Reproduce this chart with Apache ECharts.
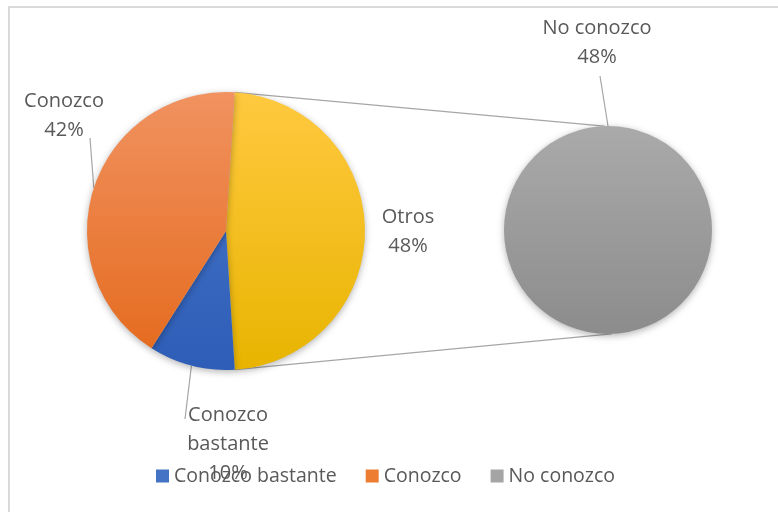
<!DOCTYPE html>
<html><head><meta charset="utf-8">
<script src="https://cdn.jsdelivr.net/npm/echarts@6/dist/echarts.min.js"></script>
<style>html,body{margin:0;padding:0;background:#fff}#c{width:778px;height:512px}</style>
</head><body><div id="c"></div>
<script>
// ---- data ----
const categories = ['Conozco bastante', 'Conozco', 'No conozco'];
const values = [10, 42, 48];
const secondaryCategories = ['No conozco'];
const otherName = 'Otros';
const wrappedNames = ['Conozco bastante'];

// ---- layout / style ----
const P1 = {cx: 226, cy: 231, r: 139};
const P2 = {cx: 608, cy: 230, r: 104};
const FONT = 'Open Sans';
const TXT = '#595959';
const LINE = '#A6A6A6';
const gradients = {
  'Conozco bastante': ['#4A78CC', '#2D5DB6'],
  'Conozco': ['#F19260', '#E4691B'],
  'Otros': ['#FFC940', '#E8B400'],
  'No conozco': ['#AAAAAA', '#8C8C8C']
};
const legendColors = {'Conozco bastante': '#4472C4', 'Conozco': '#ED7D31', 'No conozco': '#A5A5A5'};
// label centres (x, y) and leader-line end offsets relative to the label centre
const labelPos = {
  'Conozco': {x: 64, y: 116, lx: 26, ly: 22},
  'Otros': {x: 408, y: 232},
  'Conozco bastante': {x: 228, y: 444, lx: -43, ly: -25},
  'No conozco': {x: 597, y: 43, lx: 3, ly: 33}
};

const total = values.reduce((a, b) => a + b, 0);
const primaryNames = categories.filter(c => secondaryCategories.indexOf(c) < 0);
const otherValue = secondaryCategories.reduce((s, c) => s + values[categories.indexOf(c)], 0);
const startAngle = otherValue / total * 360 / 2;

function grad(name, p) {
  const g = gradients[name];
  return {type: 'linear', x: 0, y: p.cy - p.r, x2: 0, y2: p.cy + p.r, global: true,
    colorStops: [{offset: 0, color: g[0]}, {offset: 1, color: g[1]}]};
}

const primaryData = [{name: otherName, value: otherValue, itemStyle: {color: grad(otherName, P1)}, labelLine: {show: false}}]
  .concat(primaryNames.map(n => ({name: n, value: values[categories.indexOf(n)], itemStyle: {color: grad(n, P1)}})));
const secondaryData = secondaryCategories.map(n => ({name: n, value: values[categories.indexOf(n)], itemStyle: {color: grad(n, P2)}}));

function fmt(p) {
  const nm = wrappedNames.indexOf(p.name) >= 0 ? p.name.replace(' ', '\n') : p.name;
  return nm + '\n' + Math.round(p.value / total * 100) + '%';
}
function layoutFor(series) {
  return function (params) {
    const name = series[params.dataIndex].name;
    const lp = labelPos[name];
    const out = {x: lp.x, y: lp.y, align: 'center', verticalAlign: 'middle'};
    if (lp.lx != null && params.labelLinePoints) {
      const a = params.labelLinePoints[0];
      out.labelLinePoints = [[a[0], a[1]], [a[0], a[1]], [lp.x + lp.lx, lp.y + lp.ly]];
    }
    return out;
  };
}

const labelStyle = {show: true, position: 'outside', formatter: fmt, fontFamily: FONT, fontSize: 20, color: TXT, lineHeight: 29, overflow: 'none', width: null};
const shadow = {shadowBlur: 7, shadowColor: 'rgba(0,0,0,0.3)', shadowOffsetY: 2};

const rad = Math.PI / 180;
const top1 = [P1.cx + P1.r * Math.cos(startAngle * rad), P1.cy - P1.r * Math.sin(startAngle * rad)];
const bot1 = [P1.cx + P1.r * Math.cos(-startAngle * rad), P1.cy - P1.r * Math.sin(-startAngle * rad)];
const top2 = [P2.cx + P2.r * Math.cos(92 * rad), P2.cy - P2.r * Math.sin(92 * rad)];
const bot2 = [P2.cx + P2.r * Math.cos(-88 * rad), P2.cy - P2.r * Math.sin(-88 * rad)];

const chart = echarts.init(document.getElementById('c'), null, {renderer: 'canvas'});
chart.setOption({
  animation: false,
  backgroundColor: '#fff',
  graphic: [
    {type: 'rect', z: -10, shape: {x: 9, y: 7, width: 900, height: 700}, style: {fill: 'none', stroke: '#D9D9D9', lineWidth: 2}},
    {type: 'line', z: -5, shape: {x1: top1[0], y1: top1[1], x2: top2[0], y2: top2[1]}, style: {stroke: LINE, lineWidth: 1.3}},
    {type: 'line', z: -5, shape: {x1: bot1[0], y1: bot1[1], x2: bot2[0], y2: bot2[1]}, style: {stroke: LINE, lineWidth: 1.3}}
  ],
  legend: {
    data: categories.map(n => ({name: n, itemStyle: {color: legendColors[n]}})),
    left: 156, top: 466, padding: 0, icon: 'rect', itemWidth: 13, itemHeight: 13, itemGap: 29,
    textStyle: {fontFamily: FONT, fontSize: 19.5, color: TXT}
  },
  series: [
    {
      type: 'pie', center: [P1.cx, P1.cy], radius: P1.r, startAngle: startAngle, clockwise: true,
      data: primaryData, label: labelStyle, labelLine: {show: true, length: 0, length2: 0, lineStyle: {color: LINE, width: 1.2}},
      labelLayout: layoutFor(primaryData), itemStyle: shadow, emphasis: {disabled: true}
    },
    {
      type: 'pie', center: [P2.cx, P2.cy], radius: P2.r, startAngle: 270, clockwise: true,
      data: secondaryData, label: labelStyle, labelLine: {show: true, length: 0, length2: 0, lineStyle: {color: LINE, width: 1.2}},
      labelLayout: layoutFor(secondaryData), itemStyle: shadow, emphasis: {disabled: true}
    }
  ]
});
</script></body></html>
